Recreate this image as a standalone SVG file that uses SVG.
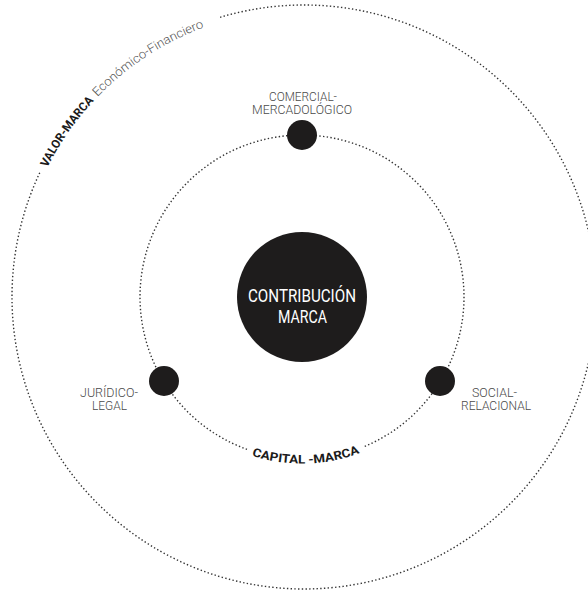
<svg xmlns="http://www.w3.org/2000/svg" width="588" height="590" viewBox="0 0 588 590">
  <style>
    .ring { fill: none; stroke: #333; stroke-width: 1.4; stroke-dasharray: 1.4 2.3; }
    .node { fill: #1e1c1c; }
    .lbl { font-family: Roboto, "Liberation Sans", sans-serif; font-weight: 300; font-size: 12px; fill: #4a4a4a; text-anchor: middle; }
    .core { font-family: Roboto, "Liberation Sans", sans-serif; font-weight: 400; font-size: 17.5px; fill: #ffffff; text-anchor: middle; }
    .arcb { font-family: Roboto, "Liberation Sans", sans-serif; font-weight: 700; font-size: 12px; fill: #1a1a1a; }
    .arcl { font-family: Roboto, "Liberation Sans", sans-serif; font-weight: 300; font-size: 12.5px; fill: #555; }
  </style>
  <defs>
    <path id="outerTextPath" d="M 16.5,297 A 287.5 287.5 0 0 1 591.5,297"/>
    <path id="innerTextPath" d="M 135.5,297 A 166.5 166.5 0 0 0 468.5,297"/>
  </defs>
  <rect width="588" height="590" fill="#ffffff"/>
  <g id="connectors">
    <path class="ring" d="M 220.1,17.3 A 292 292 0 1 1 40.0,172.2"/>
    <path class="ring" d="M 247,449.4 A 162 162 0 1 1 363,447.1"/>
  </g>
  <g id="valor-marca">
    <text class="arcb"><textPath href="#outerTextPath" startOffset="134" textLength="82" lengthAdjust="spacingAndGlyphs">VALOR-MARCA</textPath></text>
    <text class="arcl"><textPath href="#outerTextPath" startOffset="221" textLength="128.5" lengthAdjust="spacingAndGlyphs">Económico-Financiero</textPath></text>
  </g>
  <g id="capital-marca">
    <text class="arcb"><textPath href="#innerTextPath" startOffset="265.5" text-anchor="middle" textLength="110" lengthAdjust="spacingAndGlyphs">CAPITAL -MARCA</textPath></text>
  </g>
  <g id="contribucion">
    <circle class="node" cx="302" cy="297" r="65"/>
    <text class="core" x="302" y="301.5" textLength="108" lengthAdjust="spacingAndGlyphs">CONTRIBUCIÓN</text>
    <text class="core" x="302.5" y="322.5" textLength="49" lengthAdjust="spacingAndGlyphs">MARCA</text>
  </g>
  <g id="comercial">
    <circle class="node" cx="302" cy="135" r="15"/>
    <text class="lbl" x="303" y="100.5" textLength="68" lengthAdjust="spacingAndGlyphs">COMERCIAL-</text>
    <text class="lbl" x="302" y="113.5" textLength="100" lengthAdjust="spacingAndGlyphs">MERCADOLÓGICO</text>
  </g>
  <g id="juridico">
    <circle class="node" cx="164" cy="381" r="15"/>
    <text class="lbl" x="109" y="396.5" textLength="58" lengthAdjust="spacingAndGlyphs">JURÍDICO-</text>
    <text class="lbl" x="109.5" y="409.5" textLength="35" lengthAdjust="spacingAndGlyphs">LEGAL</text>
  </g>
  <g id="social">
    <circle class="node" cx="440" cy="381" r="15"/>
    <text class="lbl" x="494.5" y="396.5" textLength="45" lengthAdjust="spacingAndGlyphs">SOCIAL-</text>
    <text class="lbl" x="496" y="409.5" textLength="70" lengthAdjust="spacingAndGlyphs">RELACIONAL</text>
  </g>
</svg>
